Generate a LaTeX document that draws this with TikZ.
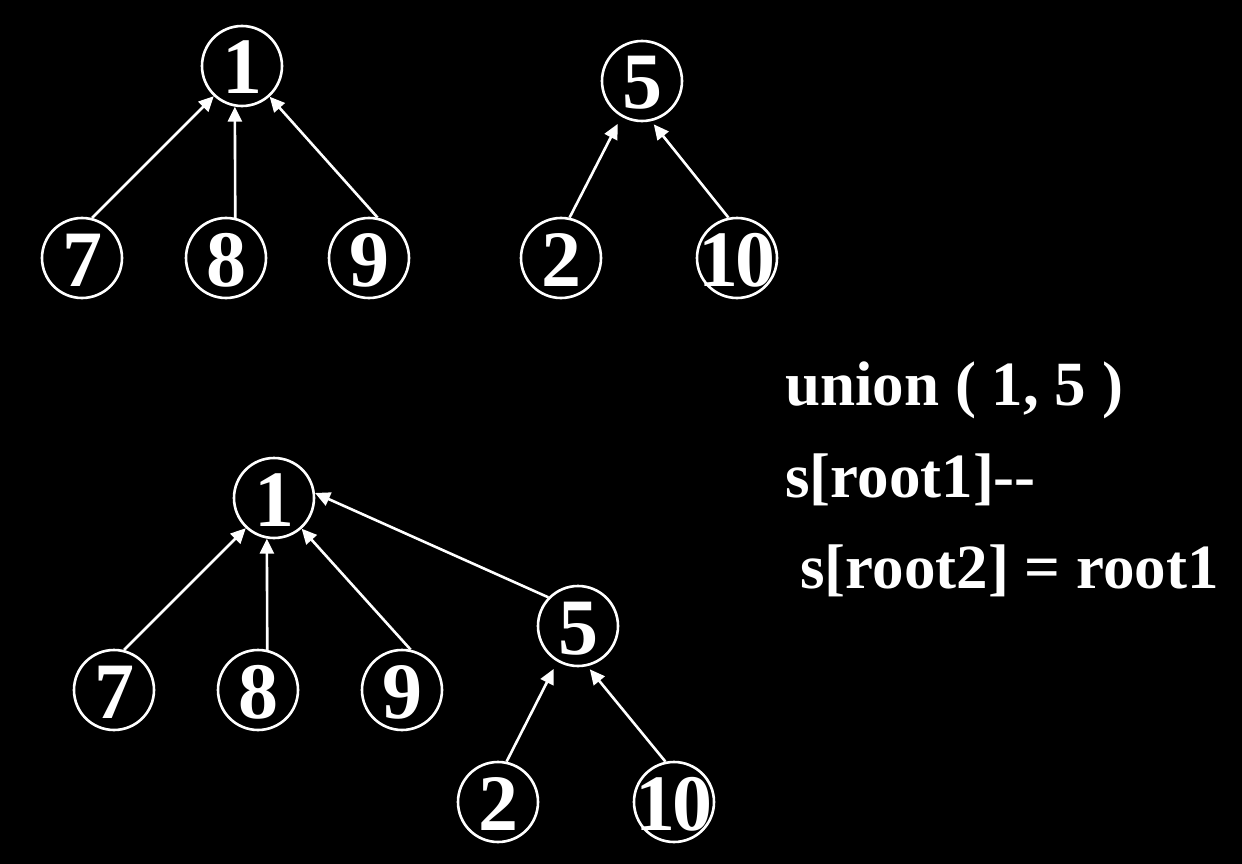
\documentclass[tikz,border=0pt]{standalone}
\usepackage{fontspec}
\setmainfont{Liberation Serif}
\usetikzlibrary{arrows.meta}
\tikzset{
  vert/.style={circle, draw=white, line width=2.6pt, minimum size=80pt, inner sep=0pt,
    text=white, font=\fontsize{80}{80}\selectfont\bfseries},
  edge/.style={draw=white, line width=2.6pt, -{Triangle[length=15pt,width=14pt]}},
  code/.style={anchor=base west, inner sep=0pt, text=white, font=\fontsize{63}{63}\selectfont\bfseries}
}
\newcommand{\vtxt}[1]{\raisebox{-28pt}[0pt][0pt]{\makebox[0pt]{#1}}}
\begin{document}
\begin{tikzpicture}[x=1pt,y=-1pt]
\fill[black] (0,0) rectangle (1242,864);
\useasboundingbox (0,0) rectangle (1242,864);
% top-left tree
\node[vert] (a1) at (242,66) {\vtxt{1}};
\node[vert] (a7) at (82,258) {\vtxt{7}};
\node[vert] (a8) at (226,258) {\vtxt{8}};
\node[vert] (a9) at (369,258) {\vtxt{9}};
\draw[edge] (a7.76) -- (a1.227);
\draw[edge] (a8.77) -- (a1.260);
\draw[edge] (a9.78) -- (a1.312);
% top-right tree
\node[vert] (a5) at (642,81) {\vtxt{5}};
\node[vert] (a2) at (561,258) {\vtxt{2}};
\node[vert] (a10) at (737,258) {\vtxt{1\kern-3pt0}};
\draw[edge, shorten >=8pt] (a2.78) -- (a5.240);
\draw[edge, shorten >=4pt] (a10.102) -- (a5.283);
% bottom merged tree
\node[vert] (b1) at (274,498) {\vtxt{1}};
\node[vert] (b7) at (114,690) {\vtxt{7}};
\node[vert] (b8) at (258,690) {\vtxt{8}};
\node[vert] (b9) at (402,690) {\vtxt{9}};
\node[vert] (b5) at (578,626) {\vtxt{5}};
\node[vert] (b2) at (498,802) {\vtxt{2}};
\node[vert] (b10) at (674,802) {\vtxt{1\kern-3pt0}};
\draw[edge] (b7.76) -- (b1.227);
\draw[edge] (b8.77) -- (b1.260);
\draw[edge] (b9.78) -- (b1.312);
\draw[edge] (b5.136) -- (b1.7);
\draw[edge, shorten >=8pt] (b2.78) -- (b5.240);
\draw[edge, shorten >=4pt] (b10.102) -- (b5.283);
% code text
\node[code] (t1) at (785,405) {union ( 1, 5 )};
\node[code] (t2) at (785,497) {s[root1]{-}{-}};
\node[code] (t3) at (800,588) {s[root2] = root1};
\end{tikzpicture}
\end{document}
